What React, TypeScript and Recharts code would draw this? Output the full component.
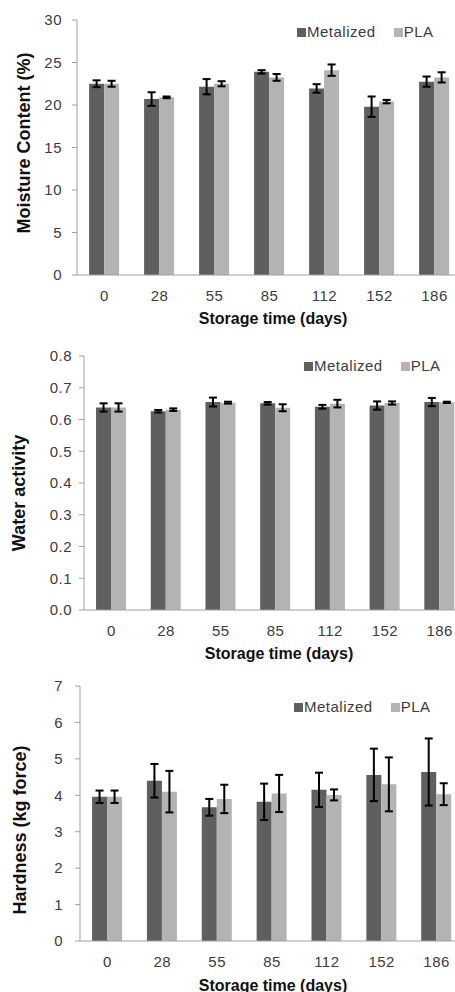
import React from "react";
import { BarChart, Bar, XAxis, YAxis, ErrorBar } from "recharts";

const categories = ["0", "28", "55", "85", "112", "152", "186"];

const moistureMet = [22.5, 20.7, 22.15, 23.9, 21.95, 19.8, 22.75];
const moistureMetErr = [0.4, 0.8, 0.9, 0.2, 0.5, 1.2, 0.6];
const moisturePla = [22.5, 20.9, 22.5, 23.25, 24.1, 20.4, 23.25];
const moisturePlaErr = [0.35, 0.1, 0.3, 0.4, 0.67, 0.2, 0.6];

const awMet = [0.638, 0.626, 0.655, 0.651, 0.64, 0.644, 0.655];
const awMetErr = [0.013, 0.004, 0.014, 0.004, 0.006, 0.013, 0.013];
const awPla = [0.638, 0.631, 0.653, 0.637, 0.65, 0.652, 0.654];
const awPlaErr = [0.013, 0.004, 0.003, 0.011, 0.012, 0.005, 0.002];

const hardMet = [3.96, 4.4, 3.67, 3.82, 4.15, 4.56, 4.64];
const hardMetErr = [0.17, 0.46, 0.23, 0.5, 0.47, 0.72, 0.92];
const hardPla = [3.96, 4.1, 3.9, 4.05, 4.01, 4.3, 4.03];
const hardPlaErr = [0.17, 0.57, 0.39, 0.51, 0.15, 0.74, 0.3];

const moistureTicks = [0, 5, 10, 15, 20, 25, 30];
const awTicks = [0, 0.1, 0.2, 0.3, 0.4, 0.5, 0.6, 0.7, 0.8];
const hardTicks = [0, 1, 2, 3, 4, 5, 6, 7];
const boundaryTicks = [0, 1, 2, 3, 4, 5, 6, 7];

const seriesNames = ["Metalized", "PLA"];
const xTitle = "Storage time (days)";

const DARK = "#5f5f5f";
const LIGHT = "#b3b3b3";
const AXIS = "#a0a0a0";
const TICK_TEXT = "#3c3c3c";
const FONT = "'Liberation Sans', Arial, sans-serif";

function build(met: number[], metErr: number[], pla: number[], plaErr: number[]) {
  return categories.map((c, i) => ({
    cat: c,
    met: met[i],
    metErr: metErr[i],
    pla: pla[i],
    plaErr: plaErr[i],
  }));
}

type PanelProps = {
  top: number;
  height: number;
  plotTop: number;
  plotLeft: number;
  plotRight: number;
  xAxisHeight: number;
  data: any[];
  domain: [number, number];
  ticks: number[];
  fmt: (v: number) => string;
  yTitle: string;
  yTitleX: number;
  yTitleY: number;
  xTitleX: number;
  xTitleY: number;
  yTickMargin: number;
  legendLeft: number;
  legendTop: number;
};

function Legend2({ left, top }: { left: number; top: number }) {
  const sw = (c: string) => (
    <span
      style={{
        display: "inline-block",
        width: 9,
        height: 9,
        background: c,
        marginRight: 1,
        verticalAlign: "middle",
        position: "relative",
        top: -1,
      }}
    />
  );
  return (
    <div
      style={{
        position: "absolute",
        left,
        top,
        fontFamily: FONT,
        fontSize: 15,
        letterSpacing: 0.5,
        color: TICK_TEXT,
        whiteSpace: "nowrap",
        lineHeight: "18px",
      }}
    >
      {sw(DARK)}
      <span>{seriesNames[0]}</span>
      <span style={{ display: "inline-block", width: 18 }} />
      {sw(LIGHT)}
      <span>{seriesNames[1]}</span>
    </div>
  );
}

function Panel(p: PanelProps) {
  const W = 480;
  return (
    <div style={{ position: "absolute", left: 0, top: p.top, width: W, height: p.height }}>
      <BarChart
        width={W}
        height={p.height}
        data={p.data}
        margin={{ top: p.plotTop, left: 0, right: W - p.plotRight, bottom: 0 }}
        barCategoryGap="22%"
        barGap={0}
      >
        <XAxis
          xAxisId="grid"
          type="number"
          domain={[0, 7]}
          ticks={boundaryTicks}
          tick={false}
          axisLine={false}
          tickLine={{ stroke: AXIS }}
          tickSize={5}
          height={0}
          allowDataOverflow
        />
        <XAxis
          dataKey="cat"
          height={p.xAxisHeight}
          axisLine={{ stroke: AXIS }}
          tickLine={false}
          tickSize={5}
          tickMargin={10}
          tick={{ fill: TICK_TEXT, fontSize: 15, fontFamily: FONT, letterSpacing: 0.5 }}
          interval={0}
          label={() => (
            <text
              x={p.xTitleX}
              y={p.xTitleY}
              textAnchor="middle"
              dominantBaseline="central"
              fontFamily={FONT}
              fontWeight="bold"
              fontSize={16}
              fill="#111"
            >
              {xTitle}
            </text>
          )}
        />
        <YAxis
          width={p.plotLeft}
          domain={p.domain}
          ticks={p.ticks}
          interval={0}
          tickFormatter={p.fmt}
          axisLine={{ stroke: AXIS }}
          tickLine={{ stroke: AXIS }}
          tickSize={5}
          tickMargin={p.yTickMargin}
          tick={{ fill: TICK_TEXT, fontSize: 15, fontFamily: FONT, letterSpacing: 0.5 }}
          label={() => (
            <text
              x={p.yTitleX}
              y={p.yTitleY}
              transform={`rotate(-90 ${p.yTitleX} ${p.yTitleY})`}
              textAnchor="middle"
              fontFamily={FONT}
              fontWeight="bold"
              fontSize={18}
              fill="#111"
            >
              {p.yTitle}
            </text>
          )}
        />
        <Bar dataKey="met" name={seriesNames[0]} fill={DARK} isAnimationActive={false}>
          <ErrorBar dataKey="metErr" stroke="#000" strokeWidth={2} width={4} isAnimationActive={false} />
        </Bar>
        <Bar dataKey="pla" name={seriesNames[1]} fill={LIGHT} isAnimationActive={false}>
          <ErrorBar dataKey="plaErr" stroke="#000" strokeWidth={2} width={4} isAnimationActive={false} />
        </Bar>
      </BarChart>
      <Legend2 left={p.legendLeft} top={p.legendTop} />
    </div>
  );
}

export default function App() {
  const moisture = build(moistureMet, moistureMetErr, moisturePla, moisturePlaErr);
  const aw = build(awMet, awMetErr, awPla, awPlaErr);
  const hard = build(hardMet, hardMetErr, hardPla, hardPlaErr);
  return (
    <div
      style={{
        position: "absolute",
        left: 0,
        top: 0,
        width: 455,
        height: 992,
        overflow: "hidden",
        background: "#fff",
      }}
    >
      <Panel
        top={0}
        height={330}
        plotTop={20}
        plotLeft={77}
        plotRight={462}
        xAxisHeight={55}
        data={moisture}
        domain={[0, 30]}
        ticks={moistureTicks}
        fmt={(v) => String(v)}
        yTitle="Moisture Content (%)"
        yTitleX={30}
        yTitleY={143}
        xTitleX={273}
        xTitleY={318}
        yTickMargin={10}
        legendLeft={297}
        legendTop={23}
      />
      <Panel
        top={330}
        height={335}
        plotTop={26}
        plotLeft={84}
        plotRight={467}
        xAxisHeight={55}
        data={aw}
        domain={[0, 0.8]}
        ticks={awTicks}
        fmt={(v) => v.toFixed(1)}
        yTitle="Water activity"
        yTitleX={25}
        yTitleY={163}
        xTitleX={279}
        xTitleY={323}
        yTickMargin={7}
        legendLeft={304}
        legendTop={27}
      />
      <Panel
        top={665}
        height={327}
        plotTop={21}
        plotLeft={80}
        plotRight={464}
        xAxisHeight={51}
        data={hard}
        domain={[0, 7]}
        ticks={hardTicks}
        fmt={(v) => String(v)}
        yTitle="Hardness (kg force)"
        yTitleX={26}
        yTitleY={165}
        xTitleX={273}
        xTitleY={320}
        yTickMargin={12}
        legendLeft={294}
        legendTop={33}
      />
    </div>
  );
}
